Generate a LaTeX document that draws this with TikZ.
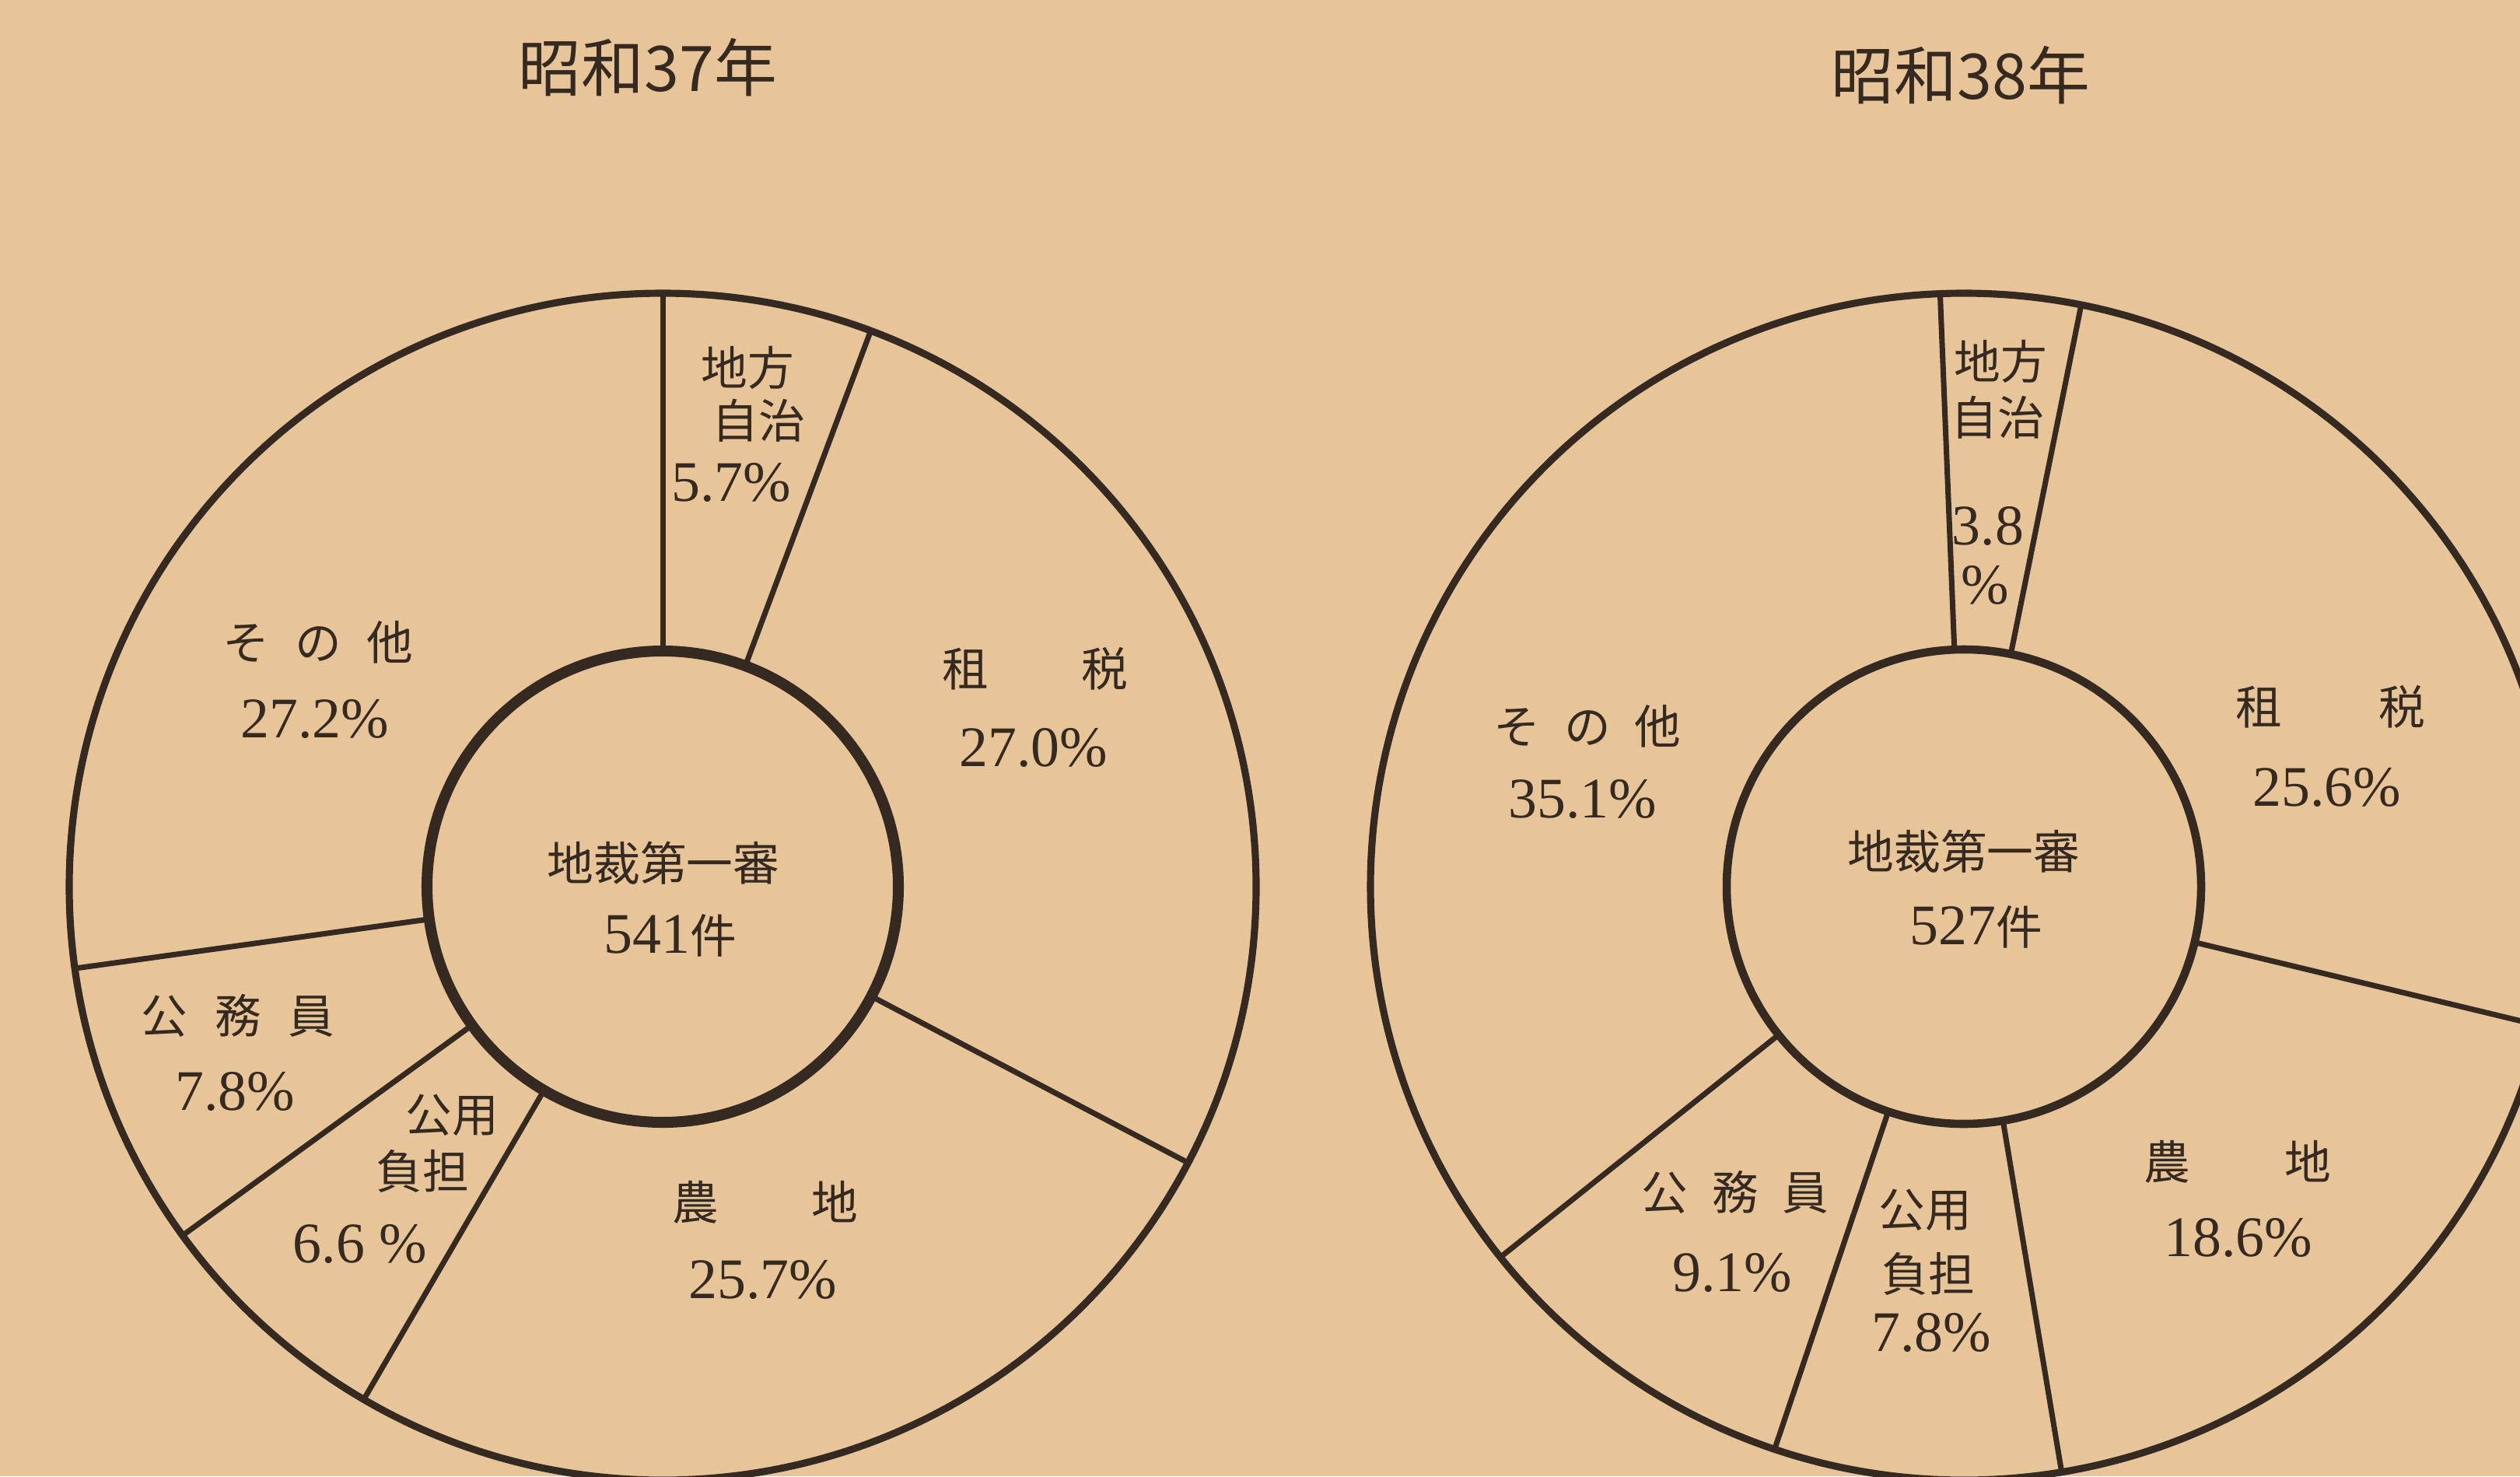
\documentclass[tikz,border=0pt]{standalone}
\usepackage{fontspec}
\newfontfamily\jp{Noto Sans CJK JP}
\newfontfamily\num{Liberation Serif}
\definecolor{paper}{RGB}{231,197,152}
\definecolor{ink}{RGB}{52,42,33}
\tikzset{
  lbl/.style={text=ink, font=\jp\fontsize{17}{20}\selectfont, inner sep=0pt},
  pct/.style={text=ink, font=\num\fontsize{21}{24}\selectfont, inner sep=0pt},
  ttl/.style={text=ink, font=\jp\fontsize{23}{26}\selectfont, inner sep=0pt},
}

\begin{document}
\begin{tikzpicture}
 \useasboundingbox (0,0) rectangle (32.4,18.98);
 \fill[paper] (0,0) rectangle (32.4,18.98);
 \clip (0,0) rectangle (32.4,18.98);

 % 昭和37年
 \coordinate (L) at (8.52,7.58);
 \foreach \a in {90,69.48,-27.72,-120.24,216,187.92}{
 \draw[ink, line width=2pt] (L) ++(\a:3.03) -- ++(\a:4.6);}
 \draw[ink, line width=2.6pt] (L) circle (7.63);
 \draw[ink, line width=4pt] (L) circle (3.03);
 \node[ttl] (t37) at (8.33,18.11) {昭和37年};
 \node[lbl] (l-chiho1) at (9.61,14.25) {地方};
 \node[lbl] (l-chiho2) at (9.75,13.57) {自治};
 \node[pct] (l-chiho3) at (9.40,12.78) {5.7\%};
 \node[lbl] (l-sozei) at (13.31,10.38) {租\hspace{1.19cm}税};
 \node[pct] (l-sozei2) at (13.29,9.37) {27.0\%};
 \node[lbl] (l-noti) at (9.84,3.52) {農\hspace{1.19cm}地};
 \node[pct] (l-noti2) at (9.81,2.53) {25.7\%};
 \node[lbl] (l-kouyou1) at (5.81,4.64) {公用};
 \node[lbl] (l-kouyou2) at (5.43,3.92) {負担};
 \node[pct] (l-kouyou3) at (4.63,2.99) {6.6 \%};
 \node[lbl] (l-koumu) at (3.06,5.92) {公\hspace{0.35cm}務\hspace{0.35cm}員};
 \node[pct] (l-koumu2) at (3.02,4.95) {7.8\%};
 \node[lbl] (l-sonota) at (4.09,10.72) {そ\hspace{0.33cm}の\hspace{0.33cm}他};
 \node[pct] (l-sonota2) at (4.05,9.74) {27.2\%};
 \node[lbl] (l-mid) at (8.53,7.88) {地裁第一審};
 \node[pct] (l-mid2) at (8.62,6.95) {541{\jp\fontsize{17}{20}\selectfont 件}};

 % 昭和38年
 \coordinate (R) at (25.25,7.58);
 \foreach \a in {92.3,78.6,-13.56,-80.52,-108.6,-141.36}{
 \draw[ink, line width=2pt] (R) ++(\a:3.05) -- ++(\a:4.58);}
 \draw[ink, line width=2.6pt] (R) circle (7.63);
 \draw[ink, line width=3pt] (R) circle (3.05);
 \node[ttl] (t38) at (25.21,18.01) {昭和38年};
 \node[lbl] (r-chiho1) at (25.72,14.33) {地方};
 \node[lbl] (r-chiho2) at (25.68,13.61) {自治};
 \node[pct] (r-chiho3) at (25.56,12.22) {3.8};
 \node[pct] (r-chiho4) at (25.52,11.46) {\%};
 \node[lbl] (r-sozei) at (29.96,9.89) {租\hspace{1.24cm}税};
 \node[pct] (r-sozei2) at (29.92,8.86) {25.6\%};
 \node[lbl] (r-noti) at (28.77,4.04) {農\hspace{1.22cm}地};
 \node[pct] (r-noti2) at (28.78,3.07) {18.6\%};
 \node[lbl] (r-kouyou1) at (24.75,3.42) {公用};
 \node[lbl] (r-kouyou2) at (24.79,2.60) {負担};
 \node[pct] (r-kouyou3) at (24.83,1.85) {7.8\%};
 \node[lbl] (r-koumu) at (22.31,3.65) {公\hspace{0.31cm}務\hspace{0.31cm}員};
 \node[pct] (r-koumu2) at (22.27,2.62) {9.1\%};
 \node[lbl] (r-sonota) at (20.41,9.64) {そ\hspace{0.31cm}の\hspace{0.31cm}他};
 \node[pct] (r-sonota2) at (20.35,8.71) {35.1\%};
 \node[lbl] (r-mid) at (25.25,8.03) {地裁第一審};
 \node[pct] (r-mid2) at (25.41,7.06) {527{\jp\fontsize{17}{20}\selectfont 件}};
\end{tikzpicture}
\end{document}
